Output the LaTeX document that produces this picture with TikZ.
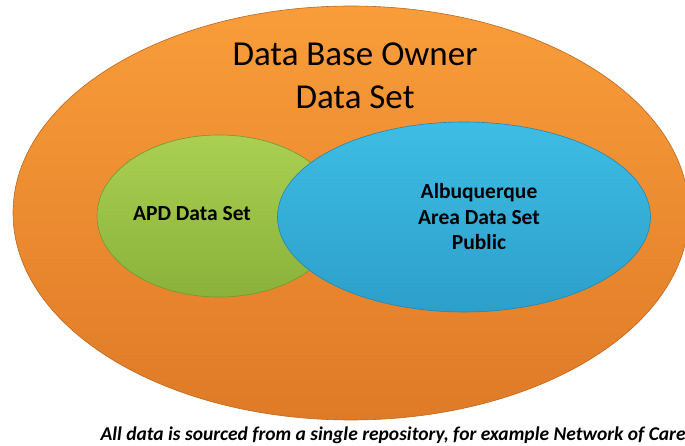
\documentclass[tikz,border=0pt]{standalone}
\usepackage{fontspec}
\setmainfont{Carlito}
\usetikzlibrary{shapes.geometric}
\definecolor{orangetop}{HTML}{F99D3A}
\definecolor{orangebot}{HTML}{DF7A27}
\definecolor{greentop}{HTML}{AACF52}
\definecolor{greenbot}{HTML}{8AB23A}
\definecolor{bluetop}{HTML}{3EBDE4}
\definecolor{bluebot}{HTML}{2C9FCB}
\tikzset{
  blob/.style={ellipse, inner sep=0pt, draw=#1bot!85!black, line width=0.6pt},
  setlabel/.style={align=center, font=\bfseries\fontsize{21.5}{25.5}\selectfont}
}
\begin{document}
\begin{tikzpicture}[x=1pt,y=-1pt]
\useasboundingbox (0,0) rectangle (685,446);
\fill[white] (0,0) rectangle (685,446);
\node[blob=orange, top color=orangetop, bottom color=orangebot, minimum width=676pt, minimum height=414pt] (owner) at (351,213) {};
\node[blob=green, top color=greentop, bottom color=greenbot, minimum width=244pt, minimum height=162pt] (apd) at (219,216) {};
\node[blob=blue, top color=bluetop, bottom color=bluebot, minimum width=373pt, minimum height=190pt] (area) at (464,217) {};
\node[align=center, font=\fontsize{35}{43}\selectfont] (ownertext) at (355,76) {Data Base Owner\\Data Set};
\node[setlabel] (apdtext) at (192,214) {APD Data Set};
\node[setlabel] (areatext) at (479,217) {Albuquerque\\Area Data Set\\Public};
\node[anchor=base west, font=\bfseries\itshape\fontsize{19.5}{23}\selectfont] (note) at (97,440) {All data is sourced from a single repository, for example Network of Care};
\end{tikzpicture}
\end{document}
